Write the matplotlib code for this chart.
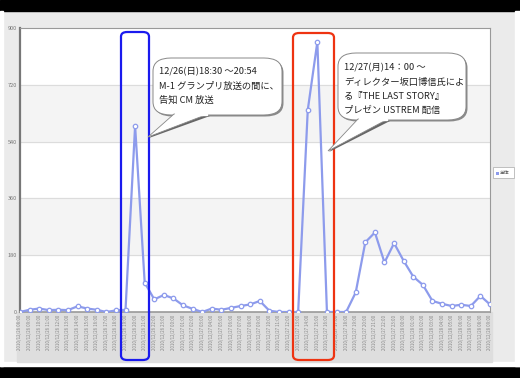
import matplotlib
matplotlib.use('Agg')
import matplotlib.pyplot as plt
from matplotlib.patches import FancyBboxPatch, Rectangle, Polygon
import numpy as np

plt.rcParams['font.family'] = ['Noto Sans CJK JP', 'DejaVu Sans']

# hourly timestamps 2010/12/26 08:00 .. 2010/12/28 09:00
labels = []
for day, start, end in [(26, 8, 23), (27, 0, 23), (28, 0, 9)]:
    for h in range(start, end + 1):
        labels.append('2010/12/%02d %02d:00' % (day, h))

values = [0, 7, 11, 6, 7, 6, 18, 11, 7, 0,
          5, 7, 590, 93, 40, 54, 43, 21, 10, 0,
          11, 7, 13, 19, 24, 35, 4, 0, 0, 0,
          640, 856, 0, 0, 0, 62, 221, 252, 157, 218,
          162, 112, 86, 35, 26, 19, 23, 19, 51, 24]

yticks = [0, 180, 360, 540, 720, 900]

W, H = 520, 378
fig = plt.figure(figsize=(5.2, 3.78), dpi=100)
fig.patch.set_facecolor('#ebebeb')

def fx(px):
    return px / W

def fy(py):
    return 1 - py / H

# frame bits of the screenshot
fig.add_artist(Rectangle((0, fy(11)), 1, 11 / H, transform=fig.transFigure, color='black', zorder=-1))
fig.add_artist(Rectangle((0, 0), 1, 12 / H, transform=fig.transFigure, color='black', zorder=-1))
fig.add_artist(Rectangle((0, fy(366)), 1, 4 / H, transform=fig.transFigure, color='white', zorder=-1))
fig.add_artist(Rectangle((0, fy(366)), fx(3), 355 / H, transform=fig.transFigure, color='white', zorder=-1))
fig.add_artist(Rectangle((fx(515), fy(366)), fx(5), 355 / H, transform=fig.transFigure, color='white', zorder=-1))
# gray band under x axis
fig.add_artist(Rectangle((fx(17), fy(362)), fx(475), 50 / H, transform=fig.transFigure,
                         color='#dedede', zorder=-0.5))

ax = fig.add_axes([fx(20), fy(312), fx(470), (312 - 28) / H])
ax.set_facecolor('white')
x = np.arange(len(values))
ax.set_xlim(0, len(values) - 1)
ax.set_ylim(0, 900)

# alternating bands
for i in range(len(yticks) - 1):
    if i % 2 == 1:
        ax.axhspan(yticks[i], yticks[i + 1], color='#f4f4f4', zorder=0)
for t in yticks[1:-1]:
    ax.axhline(t, color='#dcdcdc', lw=0.8, zorder=0.5)

ax.plot(x, values, color='#8d9bec', lw=1.6, marker='o', ms=3.2,
        mfc='white', mec='#8d9bec', mew=0.9, zorder=3)

ax.set_yticks(yticks)
ax.set_yticklabels([str(t) for t in yticks], fontsize=4, color='#777777')
ax.set_xticks(x)
ax.set_xticklabels(labels, rotation=90, fontsize=3.2, color='#888888')
ax.tick_params(length=0, pad=2)
for s in ['top', 'right']:
    ax.spines[s].set_color('#999999')
    ax.spines[s].set_linewidth(0.8)
ax.spines['left'].set_color('#777777')
ax.spines['left'].set_linewidth(1.6)
ax.spines['bottom'].set_color('#999999')
ax.spines['bottom'].set_linewidth(1.2)

# highlight boxes
fig.add_artist(FancyBboxPatch((fx(121), fy(360)), fx(28), 328 / H,
                              boxstyle='round,pad=0,rounding_size=0.012',
                              transform=fig.transFigure, fill=False, ec='#1a1aee', lw=1.6, zorder=5))
fig.add_artist(FancyBboxPatch((fx(293), fy(360)), fx(41), 327 / H,
                              boxstyle='round,pad=0,rounding_size=0.012',
                              transform=fig.transFigure, fill=False, ec='#ee3311', lw=1.6, zorder=5))

def callout(x0, y0, x1, y1, base_a, base_b, tip, lines, ty):
    # soft shadow
    fig.add_artist(FancyBboxPatch((fx(x0 + 1.5), fy(y1 + 1.5)), fx(x1 - x0), (y1 - y0) / H,
                                  boxstyle='round,pad=0,rounding_size=0.035',
                                  transform=fig.transFigure, fc='#8a8a8a', ec='none', zorder=6))
    fig.add_artist(Polygon([(fx(base_a + 2), fy(y1)), (fx(base_b + 2), fy(y1 + 1)), (fx(tip[0] + 1), fy(tip[1] + 1))],
                           transform=fig.transFigure, fc='#666666', ec='none', zorder=6))
    fig.add_artist(FancyBboxPatch((fx(x0), fy(y1)), fx(x1 - x0), (y1 - y0) / H,
                                  boxstyle='round,pad=0,rounding_size=0.035',
                                  transform=fig.transFigure, fc='white', ec='#888888', lw=0.7, zorder=7))
    fig.add_artist(Polygon([(fx(base_a), fy(y1 - 1)), (fx(base_b), fy(y1 - 1)), (fx(tip[0]), fy(tip[1]))],
                           transform=fig.transFigure, fc='white', ec='#888888', lw=0.6, zorder=7))
    fig.add_artist(Rectangle((fx(base_a + 1), fy(y1 + 0.2)), fx(base_b - base_a - 2), 1.8 / H,
                             transform=fig.transFigure, color='white', zorder=8))
    for i, line in enumerate(lines):
        fig.text(fx(x0 + 6), fy(ty + 14 * i), line, fontsize=6.7, color='#222222',
                 va='center', ha='left', zorder=9)

callout(153, 58, 282, 115, 174, 208, (148, 137),
        ['12/26(日)18:30 ～20:54', 'M-1 グランプリ放送の間に、', '告知 CM 放送'], 72)
callout(338, 53, 466, 120, 358, 388, (328, 151),
        ['12/27(月)14：00 ～', 'ディレクター坂口博信氏によ', 'る『THE LAST STORY』',
         'プレゼン USTREM 配信'], 68)

# legend
fig.add_artist(Rectangle((fx(493), fy(178)), fx(21), 11 / H, transform=fig.transFigure,
                         fc='white', ec='#aaaaaa', lw=0.5, zorder=5))
fig.add_artist(Rectangle((fx(495.5), fy(174.5)), fx(3), 3 / H, transform=fig.transFigure,
                         fc='#8d9bec', ec='none', zorder=6))
fig.text(fx(500), fy(172.5), '全体', fontsize=3.5, color='#555555', va='center', ha='left', zorder=6)

fig.savefig('out.png', dpi=100)
